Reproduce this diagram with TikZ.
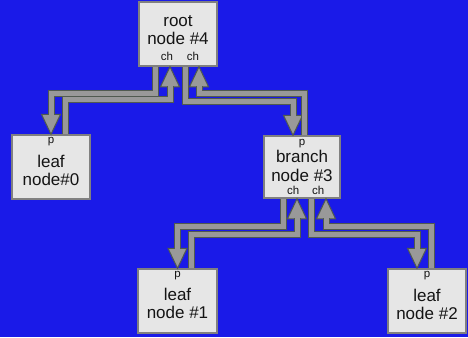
\documentclass[tikz,border=0pt]{standalone}
\usepackage{fontspec}
\setmainfont{Liberation Sans}
\usetikzlibrary{calc}
\definecolor{bgblue}{RGB}{26,26,232}
\definecolor{boxfill}{RGB}{230,230,230}
\definecolor{boxline}{RGB}{128,128,128}
\definecolor{pipegray}{RGB}{153,153,153}
\definecolor{pipedark}{RGB}{80,90,80}
\definecolor{txt}{RGB}{20,20,20}
\newcommand\tipdown[1]{\filldraw[tipst] ([xshift=-9.5pt,yshift=20pt]#1) -- (#1) -- ([xshift=9.5pt,yshift=20pt]#1) -- cycle;}
\newcommand\tipup[1]{\filldraw[tipst] ([xshift=-9.5pt,yshift=-20pt]#1) -- (#1) -- ([xshift=9.5pt,yshift=-20pt]#1) -- cycle;}
\begin{document}
\begin{tikzpicture}[x=1pt,y=-1pt,
  box/.style={draw=boxline, line width=1.5pt, fill=boxfill, inner sep=0pt},
  big/.style={font=\fontsize{17}{20}\selectfont, anchor=base, inner sep=0pt, text=txt},
  small/.style={font=\fontsize{11.5}{13}\selectfont, anchor=base, inner sep=0pt, text=txt},
  tipst/.style={draw=pipedark, fill=pipegray, line width=1pt, line join=miter},
  pipe/.style={draw=pipedark, line width=1pt, double=pipegray, double distance=5pt, line join=miter}]
\fill[bgblue] (0,0) rectangle (468,337);
% boxes
\node[box, minimum width=78pt, minimum height=64pt] (root) at (178,34) {};
\node[box, minimum width=78pt, minimum height=64pt] (leaf0) at (51,167) {};
\node[box, minimum width=76pt, minimum height=62pt] (branch) at (302,167) {};
\node[box, minimum width=79pt, minimum height=64pt] (leaf1) at (177.5,301) {};
\node[box, minimum width=78pt, minimum height=64pt] (leaf2) at (427,301) {};
% arrow tip coordinates
\coordinate (t1) at (leaf0.north);
\coordinate (t2) at ([xshift=-8pt]root.south);
\coordinate (t3) at ([xshift=-9pt]branch.north);
\coordinate (t4) at ([xshift=21pt]root.south);
\coordinate (t5) at (leaf1.north);
\coordinate (t6) at ([xshift=-5pt]branch.south);
\coordinate (t7) at ([xshift=-10pt]leaf2.north);
\coordinate (t8) at ([xshift=24pt]branch.south);
% root <-> leaf0
\tipdown{t1}
\draw[pipe] ([xshift=-23pt]root.south) -- ++(0,27) -| ([yshift=19pt]t1);
\tipup{t2}
\draw[pipe] ([xshift=14pt]leaf0.north) -- ++(0,-35) -| ([yshift=-19pt]t2);
% root <-> branch
\tipdown{t3}
\draw[pipe] ([xshift=7pt]root.south) -- ++(0,35) -| ([yshift=19pt]t3);
\tipup{t4}
\draw[pipe] ([xshift=2pt]branch.north) -- ++(0,-42) -| ([yshift=-19pt]t4);
% branch <-> leaf1
\tipdown{t5}
\draw[pipe] ([xshift=-19pt]branch.south) -- ++(0,28) -| ([yshift=19pt]t5);
\tipup{t6}
\draw[pipe] ([xshift=13.5pt]leaf1.north) -- ++(0,-34) -| ([yshift=-19pt]t6);
% branch <-> leaf2
\tipdown{t7}
\draw[pipe] ([xshift=9pt]branch.south) -- ++(0,36) -| ([yshift=19pt]t7);
\tipup{t8}
\draw[pipe] ([xshift=4pt]leaf2.north) -- ++(0,-42) -| ([yshift=-19pt]t8);
% texts
\node[big] at (178,26.5) {root};
\node[big] at (178,45) {node \#4};
\node[small] at (167,60) {ch};
\node[small] at (193,60) {ch};
\node[small] at (51,143.5) {p};
\node[big] at (51,167) {leaf};
\node[big] at (51,185) {node\#0};
\node[small] at (302,145) {p};
\node[big] at (302,162.3) {branch};
\node[big] at (302,181.5) {node \#3};
\node[small] at (293.3,194) {ch};
\node[small] at (318.3,194) {ch};
\node[small] at (177.5,277.7) {p};
\node[big] at (177.5,300.5) {leaf};
\node[big] at (177.5,318.5) {node \#1};
\node[small] at (427,277.7) {p};
\node[big] at (427,301) {leaf};
\node[big] at (427,319.5) {node \#2};
\end{tikzpicture}
\end{document}
